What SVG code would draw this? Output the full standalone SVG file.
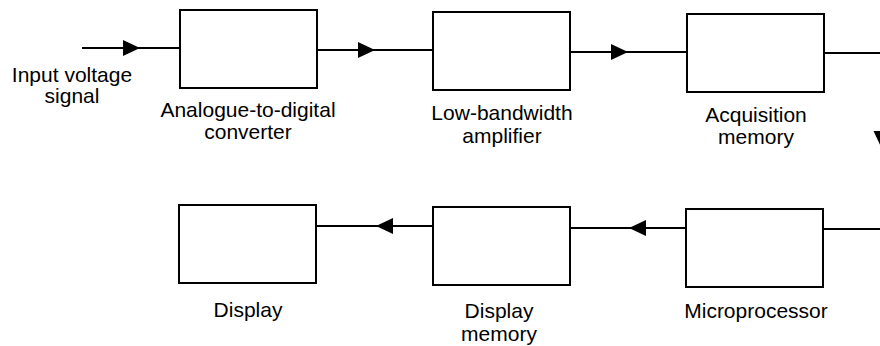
<svg xmlns="http://www.w3.org/2000/svg" xmlns:xlink="http://www.w3.org/1999/xlink" width="880" height="346" viewBox="0 0 880 346">
<style>
.box{fill:#fff;stroke:#000;stroke-width:2}
.wire{fill:none;stroke:#000;stroke-width:2}
.ah{fill:#000;stroke:none}
text{font-family:"Liberation Sans",Arial,Helvetica,sans-serif;font-size:21px;fill:#000;text-anchor:middle}
</style>
<defs>
<path id="ah" class="ah" d="M-17,-8 L0,0 L-17,8 Z"/>
</defs>
<rect width="880" height="346" fill="#fff"/>
<g id="connectors">
<path class="wire" d="M82,48 H180"/>
<use xlink:href="#ah" href="#ah" transform="translate(140,48)"/>
<path class="wire" d="M317,50 H433"/>
<use xlink:href="#ah" href="#ah" transform="translate(375,50)"/>
<path class="wire" d="M570,52 H687"/>
<use xlink:href="#ah" href="#ah" transform="translate(628,52)"/>
<path class="wire" d="M824,53 H881.5 V229 H823"/>
<use xlink:href="#ah" href="#ah" transform="translate(881.5,148) rotate(90)"/>
<path class="wire" d="M686,228 H570"/>
<use xlink:href="#ah" href="#ah" transform="translate(629,228) rotate(180)"/>
<path class="wire" d="M433,226 H316"/>
<use xlink:href="#ah" href="#ah" transform="translate(376,226) rotate(180)"/>
</g>
<g id="input">
<text x="72" y="82">Input voltage</text>
<text x="72" y="103">signal</text>
</g>
<g id="adc">
<rect class="box" x="180" y="10" width="137" height="78"/>
<text x="248" y="117">Analogue-to-digital</text>
<text x="248" y="139">converter</text>
</g>
<g id="lba">
<rect class="box" x="433" y="12" width="137" height="78"/>
<text x="502" y="120">Low-bandwidth</text>
<text x="502" y="143">amplifier</text>
</g>
<g id="acq">
<rect class="box" x="687" y="14" width="137" height="78"/>
<text x="756" y="122">Acquisition</text>
<text x="756" y="144">memory</text>
</g>
<g id="display">
<rect class="box" x="179" y="205" width="137" height="78"/>
<text x="248" y="317">Display</text>
</g>
<g id="dispmem">
<rect class="box" x="433" y="207" width="137" height="78"/>
<text x="499" y="318">Display</text>
<text x="499" y="341">memory</text>
</g>
<g id="micro">
<rect class="box" x="686" y="209" width="137" height="78"/>
<text x="756" y="318">Microprocessor</text>
</g>
</svg>
